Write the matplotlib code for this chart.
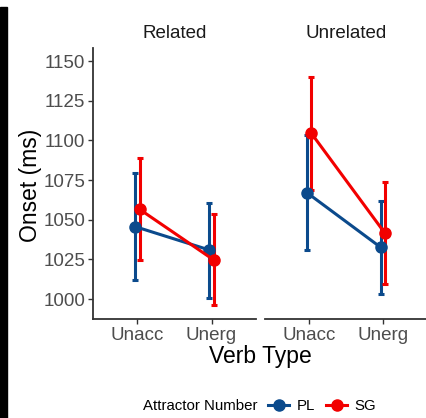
import matplotlib
matplotlib.use("Agg")
import matplotlib.pyplot as plt
from matplotlib.lines import Line2D
from matplotlib.patches import Rectangle

plt.rcParams['font.family'] = ['Liberation Sans', 'DejaVu Sans']

panels = ["Related", "Unrelated"]
verb_types = ["Unacc", "Unerg"]
groups = ["PL", "SG"]
colors = {"PL": "#0b4a8c", "SG": "#f20000"}

# mean, lower, upper per panel / group / verb type
means = {
    "Related":   {"PL": [1045.6, 1030.9], "SG": [1056.5, 1024.6]},
    "Unrelated": {"PL": [1067.0, 1032.6], "SG": [1104.4, 1041.4]},
}
lowers = {
    "Related":   {"PL": [1012.0, 1000.4], "SG": [1024.6, 996.0]},
    "Unrelated": {"PL": [1030.9, 1003.0], "SG": [1069.0, 1009.3]},
}
uppers = {
    "Related":   {"PL": [1079.6, 1060.3], "SG": [1088.6, 1053.6]},
    "Unrelated": {"PL": [1103.3, 1062.0], "SG": [1139.7, 1073.7]},
}
yticks = [1000, 1025, 1050, 1075, 1100, 1125, 1150]
dodge = {"PL": -0.03, "SG": 0.03}

W, H = 427, 418
fig = plt.figure(figsize=(W / 100, H / 100), dpi=100)
fig.patches.append(Rectangle((0, 0), 7 / W, 1 - 7 / H, transform=fig.transFigure,
                             color="black", zorder=0))

ax_pos = [(93, 163), (265, 162)]
tick_col = "#4d4d4d"
for i, p in enumerate(panels):
    x0, w = ax_pos[i]
    ax = fig.add_axes([x0 / W, 1 - 319 / H, w / W, 271 / H])
    for g in groups:
        xs = [k + 1 + dodge[g] for k in range(len(verb_types))]
        m = means[p][g]
        lo = [a - b for a, b in zip(m, lowers[p][g])]
        hi = [b - a for a, b in zip(m, uppers[p][g])]
        ax.errorbar(xs, m, yerr=[lo, hi], color=colors[g], lw=2.2, marker="o",
                    ms=8, capsize=2.5, capthick=2.2, elinewidth=2.2)
    ax.set_xlim(0.4, 2.6)
    ax.set_ylim(987.4, 1158.2)
    ax.set_xticks([1, 2])
    ax.set_xticklabels(verb_types)
    ax.set_yticks(yticks)
    for s in ["top", "right"]:
        ax.spines[s].set_visible(False)
    ax.spines["bottom"].set_color("#333333")
    ax.spines["bottom"].set_linewidth(1.3)
    ax.spines["left"].set_color("#333333")
    ax.spines["left"].set_linewidth(1.3)
    ax.tick_params(axis="both", colors="#333333", labelcolor=tick_col,
                   labelsize=13.5, length=3.5, width=1.0, pad=2)
    if i == 1:
        ax.spines["left"].set_visible(False)
        ax.tick_params(axis="y", left=False, labelleft=False)
    ax.set_facecolor("none")
    fig.text((x0 + w / 2) / W, 1 - 34 / H, p, ha="center", va="center",
             fontsize=13.5, color="#1a1a1a")

fig.text(31 / W, 1 - 185 / H, "Onset (ms)", rotation=90, ha="center", va="center",
         fontsize=16.5, color="black")
fig.text(260 / W, 1 - 356 / H, "Verb Type", ha="center", va="center",
         fontsize=16.5, color="black")

fig.text(143 / W, 1 - 406 / H, "Attractor Number", ha="left", va="center",
         fontsize=10.8, color="black")
handles = [Line2D([], [], color=colors[g], lw=2.2, marker="o", ms=8) for g in groups]
fig.legend(handles, groups, loc="center left", bbox_to_anchor=(268 / W, 1 - 406 / H),
           ncol=2, frameon=False, fontsize=10.8, handlelength=1.4,
           handletextpad=0.5, columnspacing=0.75, borderaxespad=0, borderpad=0)

fig.savefig("out.png", dpi=100)
